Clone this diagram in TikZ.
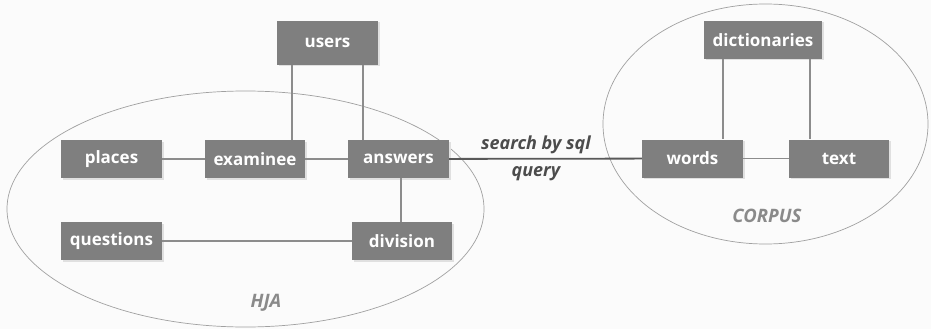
\documentclass[tikz,border=0pt]{standalone}
\usepackage{fontspec}
\setmainfont{Open Sans}
\usetikzlibrary{shapes.geometric,shadows}
\definecolor{boxgray}{HTML}{7F7F7F}
\definecolor{linegray}{HTML}{8C8C8C}
\definecolor{ellgray}{HTML}{A0A0A0}
\definecolor{labgray}{HTML}{8A8A8A}
\definecolor{bg}{HTML}{FBFBFB}
\begin{document}
\begin{tikzpicture}[x=1pt,y=-1pt,
  entity/.style={fill=boxgray,text=white,font=\fontsize{17}{19}\selectfont\bfseries,
    minimum width=#1,minimum height=38pt,inner sep=0pt,
    drop shadow={shadow xshift=1.5pt,shadow yshift=-1.5pt,fill=black!12,opacity=1}},
  entity/.default=101pt,
  link/.style={draw=linegray,line width=1.4pt},
  group/.style={draw=ellgray,line width=0.7pt},
  grouplabel/.style={text=labgray,font=\fontsize{18.5}{20}\selectfont\bfseries\itshape}]
\fill[bg] (0,0) rectangle (931,329);
\useasboundingbox (0,0) rectangle (931,329);
% ellipses
\draw[group] (245.5,209) ellipse [x radius=238.5pt, y radius=118pt];
\draw[group] (765.5,124) ellipse [x radius=162.5pt, y radius=120pt];
\node[grouplabel] (hja) at (266,303) {HJA};
\node[grouplabel] (corpus) at (767,216) {CORPUS};
% nodes
\node[entity,minimum height=44pt] (users) at (327.5,43) {users};
\node[entity] (places) at (111.5,159) {places};
\node[entity,minimum width=100pt] (examinee) at (255,159) {examinee};
\node[entity] (answers) at (398.5,159) {answers};
\node[entity] (questions) at (111.5,241) {questions};
\node[entity,minimum width=100pt] (division) at (402,241) {division};
\node[entity,minimum width=118pt] (dict) at (763,40) {dictionaries};
\node[entity] (words) at (692.5,158.5) {words};
\node[entity,minimum width=100pt] (text) at (839,158.5) {text};
% links
\draw[link] (places) -- (examinee);
\draw[link] (examinee) -- (answers);
\draw[link] (questions) -- (division);
\draw[link] (answers.south -| 401,0) -- (division.north -| 401,0);
\draw[link] (users.south -| 292,0) -- (examinee.north -| 292,0);
\draw[link] (users.south -| 363,0) -- (answers.north -| 363,0);
\draw[link] (dict.south -| 723,0) -- (words.north -| 723,0);
\draw[link] (dict.south -| 810,0) -- (text.north -| 810,0);
\draw[link] (words) -- (text);
\draw[draw=black!65,line width=1.8pt] (answers) -- (words)
  node[pos=0.45,align=center,text=black!70,font=\fontsize{18}{27}\selectfont\bfseries\itshape] {search by sql\\query};
\end{tikzpicture}
\end{document}
